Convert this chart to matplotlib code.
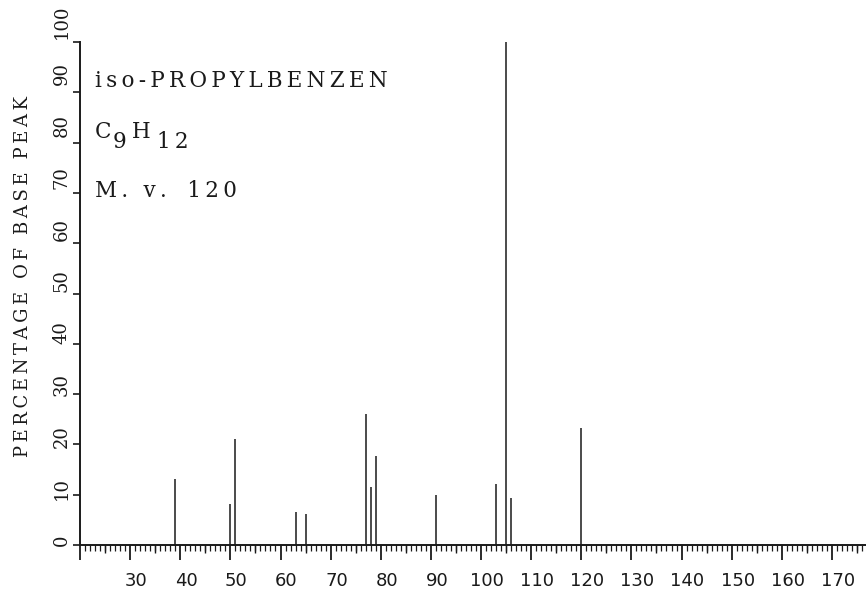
import matplotlib
matplotlib.use("Agg")
import matplotlib.pyplot as plt
from matplotlib.ticker import MultipleLocator
from matplotlib.transforms import offset_copy

# mass spectrum of iso-propylbenzene (cumene)
mz = [39, 50, 51, 63, 65, 77, 78, 79, 91, 103, 105, 106, 120]
intensity = [13.1, 8.2, 21.0, 6.5, 6.2, 26.0, 11.5, 17.6, 10.0, 12.1, 100.0, 9.3, 23.2]

x_ticks = [30, 40, 50, 60, 70, 80, 90, 100, 110, 120, 130, 140, 150, 160, 170]
y_ticks = [0, 10, 20, 30, 40, 50, 60, 70, 80, 90, 100]

compound = "iso-PROPYLBENZEN"
formula = [("C", False), ("9", True), ("H", False), ("12", True)]
mol_weight = "120"
y_title = "PERCENTAGE OF BASE PEAK"

INK = "#1a1a1a"
SERIF = "DejaVu Serif"
THIN = "\u2009"


def spaced(s, sep=THIN):
    # typewriter-style letter spacing
    return sep.join(s)


fig = plt.figure(figsize=(8.66, 5.94), dpi=100)
ax = fig.add_axes([80 / 866, 49 / 594, 786 / 866, 503 / 594])

ax.vlines(mz, 0, intensity, color=INK, linewidth=1.1)

ax.set_xlim(20, 176.8)
ax.set_ylim(0, 100)
for side in ("top", "right"):
    ax.spines[side].set_visible(False)
for side in ("left", "bottom"):
    ax.spines[side].set_color(INK)
    ax.spines[side].set_linewidth(1.4)

# x axis: long ticks every 10, medium every 5, short every 1
ax.xaxis.set_major_locator(MultipleLocator(10))
ax.xaxis.set_minor_locator(MultipleLocator(1))
ax.tick_params(axis="x", which="major", direction="out", length=11, width=1.3,
               color=INK, labelbottom=False)
ax.tick_params(axis="x", which="minor", direction="out", length=4, width=0.9, color=INK)
ax.vlines([v for v in range(25, 177, 10)], -1.5, 0, color=INK, linewidth=1.0,
          clip_on=False)

ax.yaxis.set_major_locator(MultipleLocator(10))
ax.tick_params(axis="y", which="major", direction="out", length=5, width=1.2,
               color=INK, labelleft=False)
# baseline runs a little past the y axis
ax.yaxis.get_major_ticks()[0].tick1line.set_markersize(9)

# tick labels, set slightly off their ticks as on the printed chart
xlab_tr = offset_copy(ax.get_xaxis_transform(), fig=fig, x=6, y=0, units="dots")
for v in x_ticks:
    ax.text(v, -0.072, str(v), transform=xlab_tr, ha="center", va="center",
            fontsize=13, color=INK, family="DejaVu Sans")

for v in y_ticks:
    ax.text(-0.023, v + 1 + 0.03 * v, str(v), transform=ax.get_yaxis_transform(),
            rotation=90, ha="center", va="center", fontsize=13, color=INK,
            family=SERIF)

ax.text(-0.073, 0.533, spaced(y_title), transform=ax.transAxes, rotation=90,
        ha="center", va="center", fontsize=13, color=INK, family=SERIF)

# compound info
left = 0.019
ax.text(left, 0.9105, spaced(compound), transform=ax.transAxes, ha="left",
        va="baseline", fontsize=15.5, color=INK, family=SERIF)

formula_dx = [0, 13, 26.5, 44.5]
for (part, sub), dx in zip(formula, formula_dx):
    ax.annotate(spaced(part), xy=(left, 0.809), xycoords="axes fraction",
                xytext=(dx, -7 if sub else 0), textcoords="offset points",
                ha="left", va="baseline", fontsize=15.5, color=INK, family=SERIF)

ax.text(left, 0.692, spaced("M. v.") + "   " + spaced(mol_weight),
        transform=ax.transAxes, ha="left", va="baseline", fontsize=15.5,
        color=INK, family=SERIF)

fig.savefig("out.png", dpi=100)
